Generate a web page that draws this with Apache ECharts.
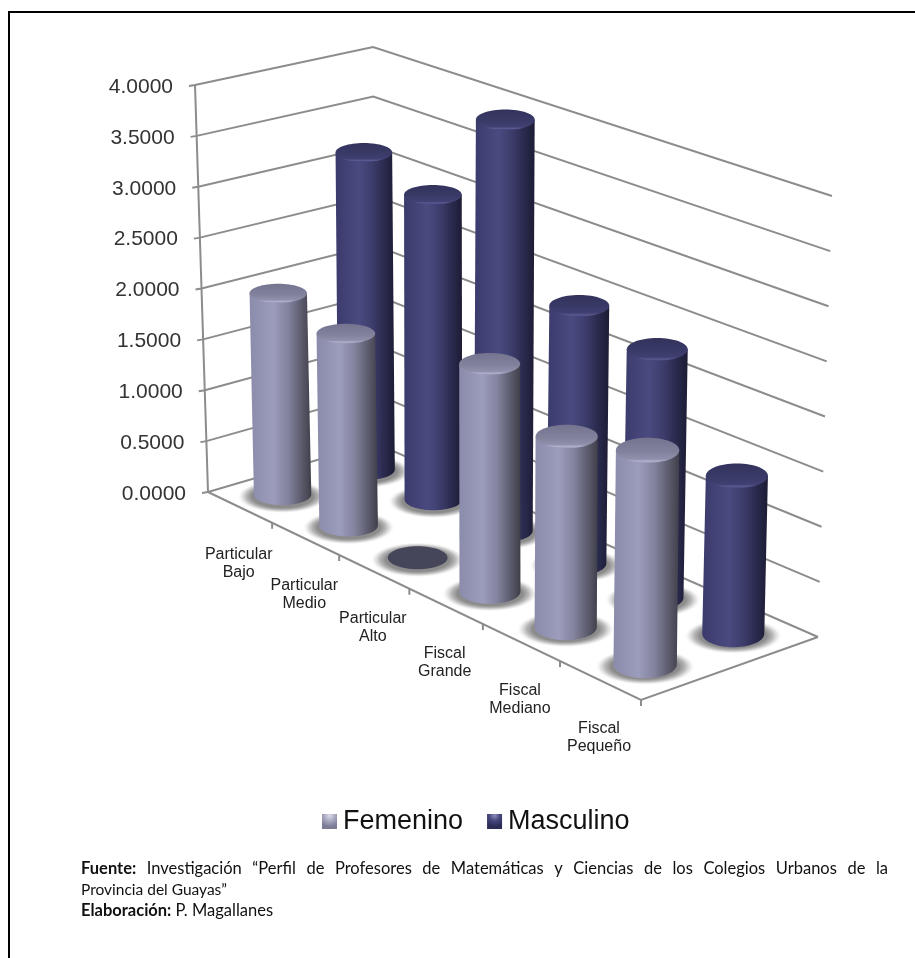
<!DOCTYPE html>
<html>
<head>
<meta charset="utf-8">
<style>html,body{margin:0;padding:0;background:#fff}#c{width:915px;height:958px}</style>
<script src="https://cdn.jsdelivr.net/npm/echarts@6/dist/echarts.min.js"></script>
</head>
<body>
<div id="c"></div>
<script>
const categories = ['Particular\nBajo','Particular\nMedio','Particular\nAlto','Fiscal\nGrande','Fiscal\nMediano','Fiscal\nPequeño'];
const femenino = [1.97,1.84,0,2.10,1.725,1.90];
const masculino = [3.15,2.97,3.93,2.42,2.29,1.43];
const valueTicks = [0,0.5,1,1.5,2,2.5,3,3.5,4];
const footerBold = ['Fuente:','','Elaboración:'];
const footerText = [
  'Investigación “Perfil de Profesores de Matemáticas y Ciencias de los Colegios Urbanos de la',
  'Provincia del Guayas”',
  'P. Magallanes'
];

// Projection of the chart box: floor corners + per-corner vertical scale and lean.
const L=[208,492],F=[641,700],R=[818,637],B=[375,443];
const SC={L:101.75,F:115,R:110.25,B:99}, LN={L:-3.25,F:1,R:3.5,B:-0.5};
const GRID={left:208,top:85,width:600,height:407};
const H=(function(){
  const [x0,y0]=L,[x1,y1]=F,[x2,y2]=R,[x3,y3]=B;
  const dx1=x1-x2,dx2=x3-x2,sx=x0-x1+x2-x3,dy1=y1-y2,dy2=y3-y2,sy=y0-y1+y2-y3;
  const den=dx1*dy2-dx2*dy1,g=(sx*dy2-dx2*sy)/den,h=(dx1*sy-sx*dy1)/den;
  return {a:x1-x0+g*x1,b:x3-x0+h*x3,c:x0,d:y1-y0+g*y1,e:y3-y0+h*y3,f:y0,g,h};
})();
function bil(o,u,v){return (1-u)*(1-v)*o.L+u*(1-v)*o.F+u*v*o.R+(1-u)*v*o.B;}
function proj(u,v,px){
  const q=H.g*u+H.h*v+1, x=(H.a*u+H.b*v+H.c)/q, y=(H.d*u+H.e*v+H.f)/q;
  const w=px/SC.L;
  return [x+bil(LN,u,v)*w, y-bil(SC,u,v)/SC.L*px];
}
function axisPx(api,val){return api.coord([0,0])[1]-api.coord([0,val])[1];}
function catU(api,i){return (api.coord([i,0])[0]-GRID.left)/GRID.width;}

const GREY='#8c8c8c';
const lineStyle={stroke:GREY,lineWidth:2,fill:null};

function renderWall(params,api){
  const val=api.value(1), px=axisPx(api,val);
  const a=proj(0,0,px),b=proj(0,1,px),c=proj(1,1,px);
  return {type:'group',children:[
    {type:'polyline',shape:{points:[[a[0]-6,a[1]+1],a,b,c]},style:lineStyle,silent:true},
    {type:'text',style:{text:val.toFixed(4),x:a[0]-22,y:a[1]+2,align:'right',verticalAlign:'middle',
      fontFamily:'"Liberation Sans",Arial,sans-serif',fontSize:21,fill:'#333333'},silent:true}
  ]};
}
function renderFrame(params,api){
  const top=axisPx(api,4);
  const a=proj(0,0,0),at=proj(0,0,top),f=proj(1,0,0),r=proj(1,1,0),ft=[f[0],f[1]+6];
  return {type:'group',children:[
    {type:'line',shape:{x1:a[0],y1:a[1],x2:at[0],y2:at[1]},style:lineStyle,silent:true},
    {type:'polyline',shape:{points:[a,f,r]},style:lineStyle,silent:true},
    {type:'line',shape:{x1:f[0],y1:f[1],x2:ft[0],y2:ft[1]},style:lineStyle,silent:true}
  ]};
}
function renderCat(params,api){
  const i=api.value(0), u=catU(api,i), n=categories.length;
  const tick=proj(u+0.5/n,0,0), mid=proj(u,0,0);
  const lines=categories[i].split('\n');
  const ch=[];
  if(i<n-1) ch.push({type:'line',shape:{x1:tick[0],y1:tick[1],x2:tick[0],y2:tick[1]+6},style:lineStyle,silent:true});
  lines.forEach((t,k)=>ch.push({type:'text',style:{text:t,x:mid[0]-1,y:mid[1]+47+i*0.2+k*18,align:'center',verticalAlign:'middle',
    fontFamily:'"Liberation Sans",Arial,sans-serif',fontSize:16,fill:'#222222'},silent:true}));
  return {type:'group',children:ch};
}
function cylGeom(api,depth){
  const i=api.value(0), val=api.value(1), u=catU(api,i), px=axisPx(api,val);
  const b=proj(u,depth,0), t=proj(u,depth,px);
  const r=bil(SC,u,depth)*0.281, k=0.33+0.08*u*u;
  return {b,t,r,ryT:r*k,ryB:r*(k+0.04),val};
}
function renderShadow(depth){
  return function(params,api){
    const g=cylGeom(api,depth), R0=g.r*1.58;
    return {type:'circle',x:g.b[0],y:g.b[1]+2,scaleX:1,scaleY:0.37,shape:{cx:0,cy:0,r:R0},silent:true,
      style:{fill:{type:'radial',x:0.5,y:0.5,r:0.5,colorStops:[
        {offset:0,color:'rgba(140,140,140,1)'},{offset:0.68,color:'rgba(140,140,140,1)'},
        {offset:0.8,color:'rgba(165,165,165,0.8)'},{offset:0.9,color:'rgba(195,195,195,0.4)'},{offset:1,color:'rgba(255,255,255,0)'}]}}};
  };
}
function hGrad(stops){return {type:'linear',x:0,y:0,x2:1,y2:0,colorStops:stops};}
function vGrad(stops){return {type:'linear',x:0,y:0,x2:0,y2:1,colorStops:stops};}
const PAL={
  fem:{body:[[0,'#8b8bab'],[0.12,'#9090b0'],[0.38,'#9c9cbc'],[0.62,'#83839e'],[0.82,'#5f5f72'],[1,'#3f3f4a']],
       top:[[0,'#747490'],[0.55,'#81819c'],[0.85,'#9090ac'],[0.93,'#b0b0cc'],[1,'#9a9ab8']],flat:'#46465a'},
  mas:{body:[[0,'#3a3a6c'],[0.12,'#3f3f72'],[0.4,'#4a4a80'],[0.62,'#3d3d6c'],[0.82,'#2a2a4e'],[1,'#1c1c34']],
       top:[[0,'#32325c'],[0.55,'#3a3a68'],[0.85,'#404072'],[0.93,'#5a5a92'],[1,'#474780']],flat:'#2f2f58'}
};
function toStops(a){return a.map(s=>({offset:s[0],color:s[1]}));}
function renderCyl(depth,pal){
  return function(params,api){
    const g=cylGeom(api,depth), children=[];
    if(g.val>0){
      const pts=[[g.t[0]-g.r,g.t[1]],[g.t[0]+g.r,g.t[1]]];
      for(let a=0;a<=36;a++){const th=Math.PI*a/36;
        pts.push([g.b[0]+g.r*Math.cos(th),g.b[1]+g.ryB*Math.sin(th)]);}
      children.push({type:'polygon',shape:{points:pts},style:{fill:hGrad(toStops(pal.body))},silent:true});
      children.push({type:'ellipse',shape:{cx:g.t[0],cy:g.t[1],rx:g.r,ry:g.ryT},style:{fill:vGrad(toStops(pal.top))},silent:true});
    } else {
      children.push({type:'ellipse',shape:{cx:g.b[0],cy:g.b[1],rx:g.r,ry:g.ryB},style:{fill:pal.flat},silent:true});
    }
    return {type:'group',children};
  };
}
const pairs=a=>a.map((v,i)=>[i,v]);
const FEM_D=0.25, MAS_D=0.75;

// Footer: words are placed one by one so the first line is justified like the reference.
const FAM='Lato,"Open Sans",sans-serif';
const ctx=document.createElement('canvas').getContext('2d');
function tw(t,font){ctx.font=font;return ctx.measureText(t).width;}
function footerEls(){
  const els=[], sizes=[16.5,15.5,16.5], X0=81, FULL=807, Y0=869, LH=21;
  footerText.forEach((line,i)=>{
    const fs=sizes[i], reg=fs+'px '+FAM, bold='bold '+reg;
    const words=(footerBold[i]?[{t:footerBold[i],b:1}]:[]).concat(line.split(' ').map(t=>({t,b:0})));
    const widths=words.map(w=>tw(w.t,w.b?bold:reg));
    const sum=widths.reduce((a,b)=>a+b,0);
    const gap=i===0?(FULL-sum)/(words.length-1):tw(' ',reg);
    let x=X0;
    words.forEach((w,k)=>{
      els.push({type:'text',silent:true,z:10,x:x,y:Y0+i*LH,
        style:{text:w.t,verticalAlign:'middle',fontFamily:FAM,fontSize:fs,fontWeight:w.b?'bold':'normal',fill:'#111111'}});
      x+=widths[k]+gap;
    });
  });
  return els;
}

const chart=echarts.init(document.getElementById('c'),null,{renderer:'canvas'});
chart.setOption({
  animation:false,
  backgroundColor:'#ffffff',
  grid:{left:GRID.left,top:GRID.top,width:GRID.width,height:GRID.height,containLabel:false},
  xAxis:{type:'category',data:categories,show:false},
  yAxis:{type:'value',min:0,max:4,interval:0.5,show:false},
  legend:{
    left:317,top:803,itemWidth:15,itemHeight:15,itemGap:24,icon:'rect',selectedMode:false,
    textStyle:{fontFamily:'"Liberation Sans",Arial,sans-serif',fontSize:27,color:'#111111',padding:[0,0,0,1]},
    data:[
      {name:'Femenino',itemStyle:{color:{type:'radial',x:0.5,y:0.1,r:0.75,colorStops:[{offset:0,color:'#dcdce8'},{offset:0.5,color:'#a8a8c0'},{offset:1,color:'#7c7c96'}]}}},
      {name:'Masculino',itemStyle:{color:{type:'radial',x:0.5,y:0.1,r:0.75,colorStops:[{offset:0,color:'#8c8cb8'},{offset:0.5,color:'#45457c'},{offset:1,color:'#2c2c58'}]}}}
    ]
  },
  series:[
    {type:'custom',name:'walls',coordinateSystem:'cartesian2d',z:1,data:valueTicks.map(v=>[0,v]),renderItem:renderWall,encode:{x:0,y:1}},
    {type:'custom',name:'frame',coordinateSystem:'cartesian2d',z:1,data:[[0,0]],renderItem:renderFrame,encode:{x:0,y:1}},
    {type:'custom',name:'cats',coordinateSystem:'cartesian2d',z:1,data:categories.map((c,i)=>[i,0]),renderItem:renderCat,encode:{x:0,y:1}},
    {type:'custom',name:'sombraM',coordinateSystem:'cartesian2d',z:2,data:pairs(masculino),renderItem:renderShadow(MAS_D),encode:{x:0,y:1}},
    {type:'custom',name:'sombraF',coordinateSystem:'cartesian2d',z:2,data:pairs(femenino),renderItem:renderShadow(FEM_D),encode:{x:0,y:1}},
    {type:'custom',name:'Masculino',coordinateSystem:'cartesian2d',z:3,data:pairs(masculino),renderItem:renderCyl(MAS_D,PAL.mas),encode:{x:0,y:1},itemStyle:{color:'#4a4a80'}},
    {type:'custom',name:'Femenino',coordinateSystem:'cartesian2d',z:4,data:pairs(femenino),renderItem:renderCyl(FEM_D,PAL.fem),encode:{x:0,y:1},itemStyle:{color:'#9c9cbc'}}
  ],
  graphic:[
    {type:'rect',silent:true,z:10,shape:{x:9,y:12,width:1000,height:1000},style:{fill:null,stroke:'#000000',lineWidth:2}}
  ].concat(footerEls())
});
</script>
</body>
</html>
